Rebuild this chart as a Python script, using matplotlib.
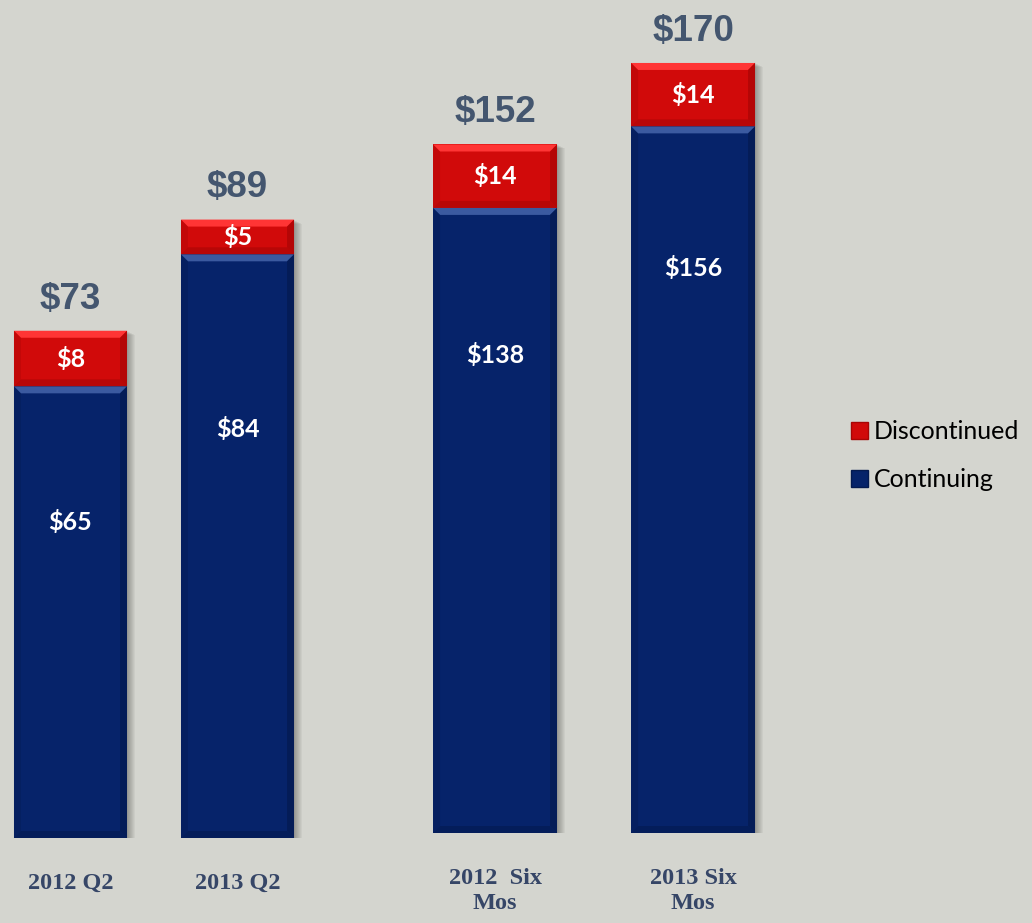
import matplotlib.pyplot as plt
from matplotlib.patches import Patch, Polygon, Rectangle

# quarter figures ($M)
q2_labels = ['2012 Q2', '2013 Q2']
q2_continuing = [65, 84]
q2_discontinued = [8, 5]
q2_totals = [73, 89]

# six month figures ($M)
six_labels = ['2012  Six\nMos', '2013 Six\nMos']
six_continuing = [138, 156]
six_discontinued = [14, 14]
six_totals = [152, 170]

BG = '#d4d5cf'
NAVY = '#06236a'
NAVY_LIGHT = '#3b5aa0'
NAVY_DARK = '#041a50'
RED = '#d10a0a'
RED_LIGHT = '#ff3535'
RED_DARK = '#a80505'
TOTAL_COLOR = '#44566f'
CAT_COLOR = '#364667'

W, H = 1032, 923
fig = plt.figure(figsize=(W / 100, H / 100), dpi=100)
fig.patch.set_facecolor(BG)


def make_axes(x0, x1, ybottom, xlim, ylim):
    ax = fig.add_axes([x0 / W, (H - ybottom) / H, (x1 - x0) / W, ybottom / H])
    ax.set_xlim(*xlim)
    ax.set_ylim(*ylim)
    ax.set_facecolor('none')
    for s in ax.spines.values():
        s.set_visible(False)
    ax.set_yticks([])
    ax.tick_params(axis='x', length=0, pad=25)
    # data units per pixel
    upx = (xlim[1] - xlim[0]) / (x1 - x0)
    upy = (ylim[1] - ylim[0]) / ybottom
    return ax, upx, upy


def bevel(ax, rect, light, dark, upx, upy, px=7):
    x0 = rect.get_x()
    x1 = x0 + rect.get_width()
    y0 = rect.get_y()
    y1 = y0 + rect.get_height()
    bx, by = px * upx, px * upy
    top = [(x0, y1), (x1, y1), (x1 - bx, y1 - by), (x0 + bx, y1 - by)]
    bot = [(x0, y0), (x1, y0), (x1 - bx, y0 + by), (x0 + bx, y0 + by)]
    left = [(x0, y0), (x0 + bx, y0 + by), (x0 + bx, y1 - by), (x0, y1)]
    right = [(x1, y0), (x1 - bx, y0 + by), (x1 - bx, y1 - by), (x1, y1)]
    ax.add_patch(Polygon(top, closed=True, fc=light, ec='none', zorder=3))
    ax.add_patch(Polygon(bot, closed=True, fc=dark, ec='none', zorder=3, alpha=0.6))
    ax.add_patch(Polygon(left, closed=True, fc=dark, ec='none', zorder=3, alpha=0.35))
    ax.add_patch(Polygon(right, closed=True, fc=dark, ec='none', zorder=3, alpha=0.7))


def shadow(ax, x0, width, height, upx, upy):
    for k in range(1, 9):
        ax.add_patch(Rectangle((x0 + k * upx, -2 * upy), width, height + 2 * upy - k * 0.5 * upy,
                               fc='#30302c', ec='none', alpha=0.05, zorder=1))


def draw_group(ax, upx, upy, labels, cont, disc, totals, width, fracs):
    xs = list(range(len(labels)))
    b1 = ax.bar(xs, cont, width, color=NAVY, zorder=2)
    b2 = ax.bar(xs, disc, width, bottom=cont, color=RED, zorder=2)
    for r, t in zip(b1, totals):
        shadow(ax, r.get_x(), r.get_width(), t, upx, upy)
    for r in b1:
        bevel(ax, r, NAVY_LIGHT, NAVY_DARK, upx, upy)
    for r in b2:
        bevel(ax, r, RED_LIGHT, RED_DARK, upx, upy)
    for x, c, d, t, f in zip(xs, cont, disc, totals, fracs):
        ax.text(x, c * f, f'${c}', ha='center', va='center', color='white',
                fontsize=18, fontweight='bold', family='Lato', zorder=5)
        ax.text(x, c + d / 2, f'${d}', ha='center', va='center', color='white',
                fontsize=18, fontweight='bold', family='Lato', zorder=5)
        ax.annotate(f'${t}', (x, t), xytext=(0, 16), textcoords='offset points',
                    ha='center', va='baseline', color=TOTAL_COLOR, fontsize=26.5,
                    fontweight='bold', family='Liberation Sans')
    ax.set_xticks(xs)
    ax.set_xticklabels(labels, family='Liberation Serif', fontweight='bold',
                       fontsize=17.5, color=CAT_COLOR, linespacing=1.25)


ax1, ux1, uy1 = make_axes(0, 310, 838, (-0.422, 1.434), (0, 120.6))
draw_group(ax1, ux1, uy1, q2_labels, q2_continuing, q2_discontinued, q2_totals,
           0.677, [0.70, 0.70])

ax2, ux2, uy2 = make_axes(380, 800, 833, (-0.581, 1.540), (0, 183.9))
draw_group(ax2, ux2, uy2, six_labels, six_continuing, six_discontinued, six_totals,
           0.626, [0.765, 0.80])

handles = [Patch(facecolor=RED, edgecolor=RED_DARK, label='Discontinued'),
           Patch(facecolor=NAVY, edgecolor=NAVY_DARK, label='Continuing')]
fig.legend(handles=handles, loc='upper left', bbox_to_anchor=(828 / W, 1 - 398 / H),
           frameon=False, handlelength=0.7, handleheight=0.7,
           handletextpad=0.25, labelspacing=1.0, prop={'family': 'Lato', 'size': 18})

fig.savefig('out.png', dpi=100, facecolor=BG)
